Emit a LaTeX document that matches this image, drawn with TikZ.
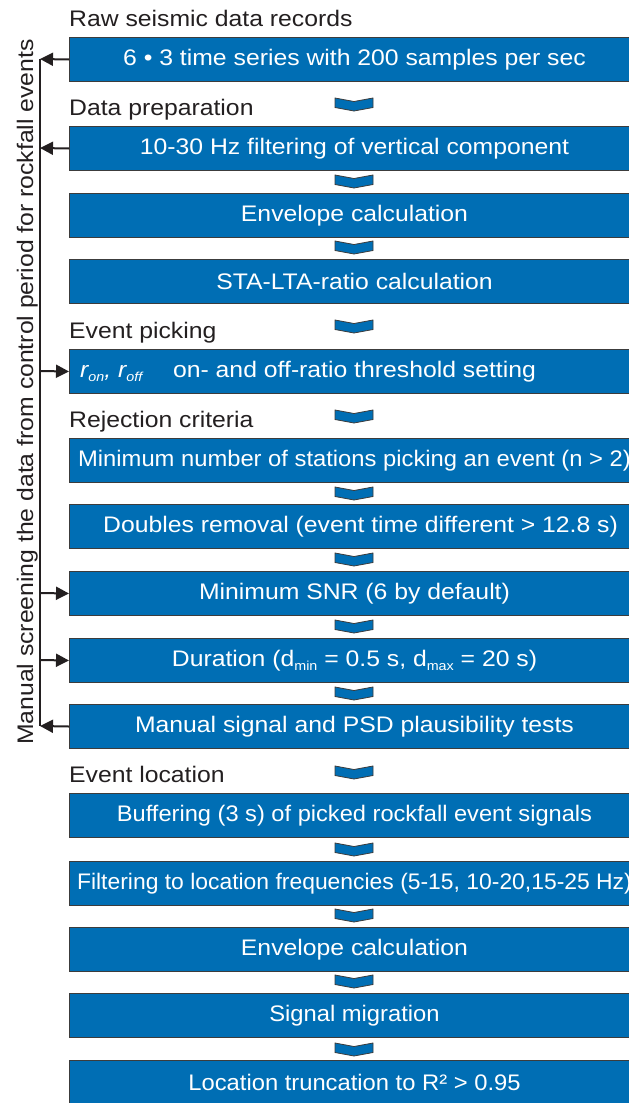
\documentclass[tikz,border=0pt]{standalone}
\usepackage{fontspec}
\setmainfont{Liberation Sans}[FakeStretch=1.1]
\usetikzlibrary{arrows.meta}
\definecolor{boxblue}{RGB}{0,110,180}
\definecolor{boxline}{RGB}{60,60,60}
\definecolor{ink}{RGB}{35,31,32}
\newcommand{\subsc}[1]{\raisebox{-0.35ex}{\fontsize{13}{13}\selectfont #1}}
\begin{document}
\begin{tikzpicture}[x=1pt,y=-1pt,
  font=\fontsize{22.5}{26}\selectfont,
  stepbox/.style={draw=boxline, line width=1pt, fill=boxblue, text=white,
    minimum width=570pt, minimum height=44pt, inner sep=0pt, anchor=north west},
  head/.style={anchor=base west, text=ink, inner sep=0pt},
  arr/.style={draw=ink, line width=2pt, -{Triangle[length=13pt,width=13pt]}},
  bracket/.style={draw=ink, line width=2pt},
  chev/.pic={\draw[draw=boxline, line width=0.8pt, fill=boxblue]
     (-19,0) -- (0,3.5) -- (19,0) -- (19,9.5) -- (0,13) -- (-19,9.5) -- cycle;}
]
\useasboundingbox (0,0) rectangle (629,1103);
\clip (0,0) rectangle (629,1103);

% section headings
\node[head] (h1) at (69,26) {Raw seismic data records};
\node[head] (h2) at (69,115) {Data preparation};
\node[head] (h3) at (69,338) {Event picking};
\node[head] (h4) at (69,427) {Rejection criteria};
\node[head] (h5) at (69,782) {Event location};

% boxes
\node[stepbox] (b1)  at (69,37)   {6 • 3 time series with 200 samples per sec};
\node[stepbox] (b2)  at (69,126)  {10-30 Hz filtering of vertical component};
\node[stepbox] (b3)  at (69,193)  {Envelope calculation};
\node[stepbox] (b4)  at (69,259)  {STA-LTA-ratio calculation};
\node[stepbox] (b5)  at (69,349)  {on- and off-ratio threshold setting};
\node[anchor=base west, text=white, inner sep=0pt] (r5) at ([xshift=11pt]b5.base west)
  {\itshape r\subsc{on}, r\subsc{off}};
\node[stepbox] (b6)  at (69,438)  {\scalebox{0.96}[1]{Minimum number of stations picking an event (n > 2)}};
\node[stepbox] (b7)  at (69,504)  {\hspace*{12pt}Doubles removal (event time different > 12.8 s)};
\node[stepbox] (b8)  at (69,571)  {Minimum SNR (6 by default)};
\node[stepbox] (b9)  at (69,638)  {Duration (d\subsc{min} = 0.5 s, d\subsc{max} = 20 s)};
\node[stepbox] (b10) at (69,704)  {Manual signal and PSD plausibility tests};
\node[stepbox] (b11) at (69,793)  {\scalebox{0.955}[1]{Buffering (3 s) of picked rockfall event signals}};
\node[stepbox] (b12) at (69,861)  {\scalebox{0.925}[1]{Filtering to location frequencies (5-15, 10-20,15-25 Hz)}};
\node[stepbox] (b13) at (69,927)  {Envelope calculation};
\node[stepbox] (b14) at (69,993)  {\scalebox{0.96}[1]{Signal migration}};
\node[stepbox] (b15) at (69,1060) {\scalebox{0.96}[1]{Location truncation to R² > 0.95}};

% chevrons
\foreach \yy in {98,175,241,320,410,487,553,620,687,766,843,909,975,1043}
  \pic at (354,\yy) {chev};

% manual screening bracket
\coordinate (c1)  at (40,59);
\coordinate (c2)  at (40,148);
\coordinate (c5)  at (40,371);
\coordinate (c8)  at (40,593);
\coordinate (c9)  at (40,660);
\coordinate (c10) at (40,726);
\draw[bracket] (c1) -- (c10);
\draw[arr] (b1.west) -- (c1);
\draw[arr] (b2.west) -- (c2);
\draw[arr] (c5) -- (b5.west);
\draw[arr] (c8) -- (b8.west);
\draw[arr] (c9) -- (b9.west);
\draw[arr] (b10.west) -- (c10);

\node[rotate=90, anchor=base, text=ink, inner sep=0pt] (side) at (33,392)
  {Manual screening the data from control period for rockfall events};
\end{tikzpicture}
\end{document}
